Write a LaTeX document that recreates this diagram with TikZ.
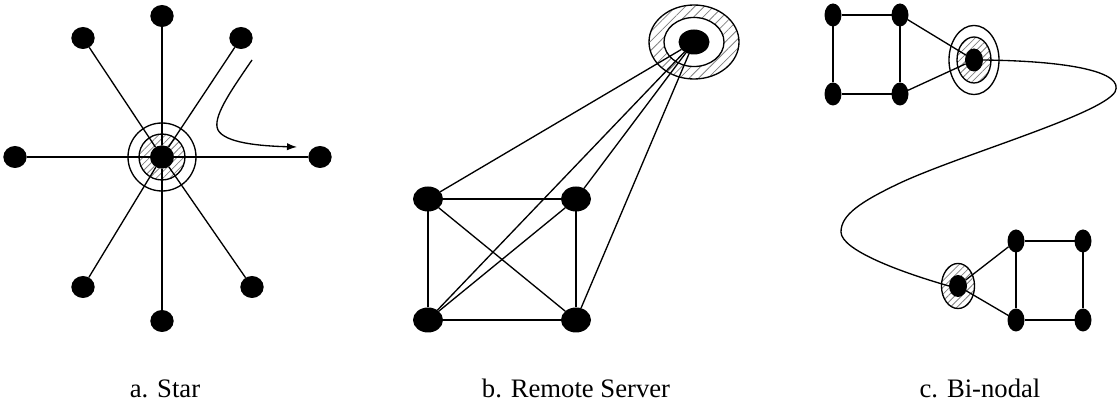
\documentclass[tikz,border=0pt]{standalone}
\usepackage{fontspec}
\setmainfont{Liberation Serif}
\usetikzlibrary{shapes.geometric,patterns.meta,arrows.meta}

\begin{document}
\begin{tikzpicture}[x=0.75pt,y=-0.75pt,line width=1pt,
  dot/.style={ellipse,fill=black,inner sep=0pt,outer sep=0pt},
  stardot/.style={dot,minimum width=17.5pt,minimum height=16.5pt},
  sqdot/.style={dot,minimum width=22.5pt,minimum height=18.75pt},
  bidot/.style={dot,minimum width=12.75pt,minimum height=17.25pt},
  hatch/.style={pattern={Lines[angle=45,distance=3.6pt,line width=0.6pt]},pattern color=gray},
  widehatch/.style={pattern={Lines[angle=45,distance=5pt,line width=0.6pt]},pattern color=gray},
  caption/.style={font=\fontsize{20}{24}\selectfont,anchor=base}]
\useasboundingbox (0,0) rectangle (1118,409);

% ---------------- a. Star ----------------
\coordinate (sc) at (162,157);
\fill[hatch] (sc) circle[radius=17.25pt];
\draw (sc) circle[radius=17.25pt];
\draw (sc) circle[radius=25.5pt];
\node[dot,minimum width=18pt,minimum height=17.5pt] (s0) at (sc) {};
\node[stardot] (s1) at (162,16) {};
\node[stardot] (s2) at (241,38) {};
\node[stardot] (s3) at (320,157) {};
\node[stardot] (s4) at (252,287) {};
\node[stardot] (s5) at (162,321) {};
\node[stardot] (s6) at (83,287) {};
\node[stardot] (s7) at (15,157) {};
\node[stardot] (s8) at (83,38) {};
\foreach \i in {1,...,8} \draw (s\i) -- (s0);
\coordinate (fa) at (252,60);
\coordinate (fb) at (297,147);
\draw[-{Latex[length=7.5pt,width=5.5pt]}] (fa) .. controls (230,92) and (212,118) .. (218,130)
  .. controls (225,143) and (260,146) .. (fb);

% ---------------- b. Remote Server ----------------
\coordinate (rc) at (694,42);
\fill[widehatch] (rc) ellipse[x radius=33.75pt,y radius=27.75pt];
\fill[white] (rc) ellipse[x radius=22.5pt,y radius=18.4pt];
\draw (rc) ellipse[x radius=33.75pt,y radius=27.75pt];
\draw (rc) ellipse[x radius=22.5pt,y radius=18.4pt];
\node[dot,minimum width=23.25pt,minimum height=18.75pt] (srv) at (rc) {};
\node[sqdot] (r1) at (428,199) {};
\node[sqdot] (r2) at (576,199) {};
\node[sqdot] (r3) at (576,320) {};
\node[sqdot] (r4) at (428,320) {};
\draw (r1) -- (r2) -- (r3) -- (r4) -- (r1);
\draw (r1) -- (r3);
\draw (r2) -- (r4);
\foreach \i in {1,...,4} \draw (r\i) -- (srv);

% ---------------- c. Bi-nodal ----------------
\coordinate (uc) at (974,60);
\fill[hatch] (uc) ellipse[x radius=12.75pt,y radius=17.25pt];
\draw (uc) ellipse[x radius=12.75pt,y radius=17.25pt];
\draw (uc) ellipse[x radius=18.75pt,y radius=25.9pt];
\node[dot,minimum width=13.5pt,minimum height=17.25pt] (uh) at (uc) {};
\node[bidot] (b1) at (833,15) {};
\node[bidot] (b2) at (900,15) {};
\node[bidot] (b3) at (900,94) {};
\node[bidot] (b4) at (833,94) {};
\draw (b1) -- (b2) -- (b3) -- (b4) -- (b1);
\draw (b2) -- (uh);
\draw (b3) -- (uh);

\coordinate (lc) at (958,286);
\fill[hatch] (lc) ellipse[x radius=12.4pt,y radius=16.9pt];
\draw (lc) ellipse[x radius=12.4pt,y radius=16.9pt];
\node[dot,minimum width=13.5pt,minimum height=16.5pt] (lh) at (lc) {};
\node[bidot] (l1) at (1016,241) {};
\node[bidot] (l2) at (1083,241) {};
\node[bidot] (l3) at (1083,320) {};
\node[bidot] (l4) at (1016,320) {};
\draw (l1) -- (l2) -- (l3) -- (l4) -- (l1);
\draw (lh) -- (l1);
\draw (lh) -- (l4);

\draw (uh.east) .. controls (1070,61) and (1125,72) .. (1115,92)
  .. controls (1100,115) and (960,155) .. (900,183)
  .. controls (860,202) and (841,215) .. (841,232)
  .. controls (841,250) and (900,272) .. (lh.west);

% ---------------- captions ----------------
\node[caption] (capa) at (165,398) {a. Star};
\node[caption] (capb) at (576,398) {b. Remote Server};
\node[caption] (capc) at (980,398) {c. Bi-nodal};
\end{tikzpicture}
\end{document}
